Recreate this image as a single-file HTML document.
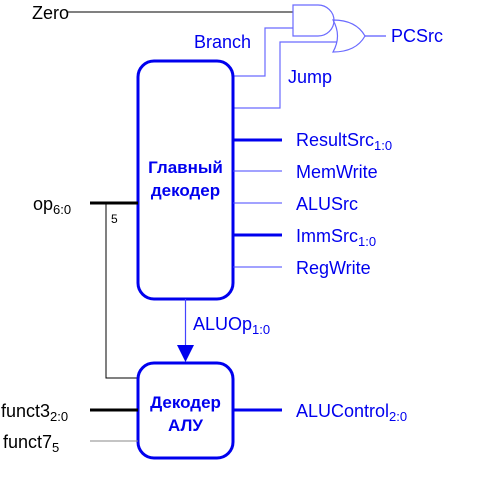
<!DOCTYPE html>
<html><head><meta charset="utf-8"><style>
html,body{margin:0;padding:0;background:#fff;}
svg{display:block;}
text{font-family:"Liberation Sans",sans-serif;}
</style></head><body>
<svg width="496" height="501" viewBox="0 0 496 501" xmlns="http://www.w3.org/2000/svg">
<text x="32" y="19" font-size="18" fill="#000">Zero</text>
<line x1="68" y1="12" x2="293" y2="12" stroke="#000" stroke-width="1"/>
<path d="M293,5 H318 A16,15.5 0 0 1 318,36 H293 Z" fill="none" stroke="#6a6aff" stroke-width="1.2"/>
<path d="M333,20 Q342,36 333,52 Q356,52 365,36 Q356,20 333,20 Z" fill="none" stroke="#6a6aff" stroke-width="1.2"/>
<line x1="365" y1="36" x2="386" y2="36" stroke="#3030ff" stroke-width="1"/>
<text x="391" y="42" font-size="18" fill="#0000ee">PCSrc</text>
<polyline points="233,76 265,76 265,28 293,28" fill="none" stroke="#6a6aff" stroke-width="1.2"/>
<text x="194" y="48" font-size="18" fill="#0000ee">Branch</text>
<polyline points="233,108 280,108 280,42 337,42" fill="none" stroke="#6a6aff" stroke-width="1.2"/>
<text x="288" y="83" font-size="18" fill="#0000ee">Jump</text>
<rect x="138" y="61" width="95" height="238" rx="16" fill="none" stroke="#0000ee" stroke-width="3"/>
<text x="185.5" y="173" font-size="17" font-weight="bold" fill="#0000ee" text-anchor="middle">Главный</text>
<text x="185.5" y="196" font-size="17" font-weight="bold" fill="#0000ee" text-anchor="middle">декодер</text>
<line x1="233" y1="140" x2="282" y2="140" stroke="#0000ee" stroke-width="3"/>
<line x1="233" y1="171" x2="282" y2="171" stroke="#4444ff" stroke-width="1"/>
<line x1="233" y1="203" x2="282" y2="203" stroke="#4444ff" stroke-width="1"/>
<line x1="233" y1="235" x2="282" y2="235" stroke="#0000ee" stroke-width="3"/>
<line x1="233" y1="267" x2="282" y2="267" stroke="#4444ff" stroke-width="1"/>
<text x="296" y="146" font-size="18" fill="#0000ee">ResultSrc<tspan font-size="13" dy="4">1:0</tspan></text>
<text x="296" y="178" font-size="18" fill="#0000ee">MemWrite</text>
<text x="296" y="210" font-size="18" fill="#0000ee">ALUSrc</text>
<text x="296" y="242" font-size="18" fill="#0000ee">ImmSrc<tspan font-size="13" dy="4">1:0</tspan></text>
<text x="296" y="274" font-size="18" fill="#0000ee">RegWrite</text>
<text x="33" y="210" font-size="18" fill="#000">op<tspan font-size="13" dy="4">6:0</tspan></text>
<line x1="90" y1="203" x2="138" y2="203" stroke="#000" stroke-width="3"/>
<polyline points="106,203 106,378 138,378" fill="none" stroke="#000" stroke-width="1"/>
<text x="111" y="223" font-size="12" fill="#000">5</text>
<line x1="185.5" y1="299" x2="185.5" y2="348" stroke="#4444ff" stroke-width="1.2"/>
<polygon points="177,345 194,345 185.5,362" fill="#0000ee"/>
<text x="193" y="330" font-size="18" fill="#0000ee">ALUOp<tspan font-size="13" dy="4">1:0</tspan></text>
<rect x="138" y="363" width="95" height="95" rx="16" fill="none" stroke="#0000ee" stroke-width="3"/>
<text x="185.5" y="408" font-size="17" font-weight="bold" fill="#0000ee" text-anchor="middle">Декодер</text>
<text x="185.5" y="431" font-size="17" font-weight="bold" fill="#0000ee" text-anchor="middle">АЛУ</text>
<line x1="233" y1="410" x2="282" y2="410" stroke="#0000ee" stroke-width="3"/>
<text x="296" y="417" font-size="18" fill="#0000ee">ALUControl<tspan font-size="13" dy="4">2:0</tspan></text>
<text x="1" y="417" font-size="18" fill="#000">funct3<tspan font-size="13" dy="4">2:0</tspan></text>
<line x1="90" y1="410" x2="138" y2="410" stroke="#000" stroke-width="3"/>
<text x="3" y="448" font-size="18" fill="#000">funct7<tspan font-size="13" dy="4">5</tspan></text>
<line x1="90" y1="441" x2="138" y2="441" stroke="#888" stroke-width="1"/>
</svg>
</body></html>
